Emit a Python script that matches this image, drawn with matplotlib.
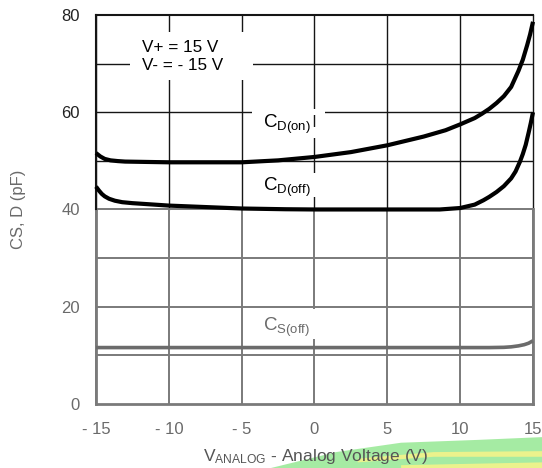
import matplotlib
matplotlib.use("Agg")
import matplotlib.pyplot as plt
from matplotlib.patches import Rectangle, Polygon

plt.rcParams["font.family"] = ["Liberation Sans", "DejaVu Sans"]
plt.rcParams["mathtext.fontset"] = "custom"
plt.rcParams["mathtext.rm"] = "Liberation Sans"
plt.rcParams["mathtext.it"] = "Liberation Sans"

# ---------------------------------------------------------------------------
# Capacitance vs analog voltage (V+ = 15 V, V- = -15 V)
# ---------------------------------------------------------------------------
V_ON = [-15, -14.7, -14.4, -14, -13.5, -13, -12, -10, -5, -2.5, 0, 2.5, 5,
        7.5, 9, 10, 11, 11.5, 12, 12.5, 13, 13.5, 14, 14.3, 14.6, 14.8, 15]
C_D_ON = [51.6, 50.9, 50.4, 50.1, 49.95, 49.85, 49.8, 49.7, 49.7, 50.1,
          50.8, 51.8, 53.2, 55.0, 56.3, 57.5, 58.8, 59.7, 60.7, 61.9, 63.3,
          65.2, 68.5, 70.8, 73.8, 76.0, 78.6]

V_OFF = [-15, -14.8, -14.6, -14.4, -14.1, -13.7, -13.2, -12.5, -11, -10,
         -7.5, -5, -2, 0, 5, 8.6, 10, 11, 11.6, 12, 12.5, 13, 13.5, 13.8,
         14.1, 14.3, 14.5, 14.7, 14.85, 15]
C_D_OFF = [44.7, 43.9, 43.2, 42.7, 42.2, 41.8, 41.5, 41.3, 41.0, 40.8,
           40.5, 40.2, 40.05, 40.0, 40.0, 40.0, 40.3, 41.0, 41.9, 42.6,
           43.6, 44.8, 46.4, 47.8, 49.8, 51.4, 53.3, 55.8, 57.8, 60.0]

V_S = [-15, 10, 12, 13, 13.5, 14, 14.4, 14.7, 15]
C_S_OFF = [11.6, 11.6, 11.6, 11.65, 11.75, 11.95, 12.2, 12.5, 13.0]

X_TICKS = [-15, -10, -5, 0, 5, 10, 15]
X_TICK_LABELS = ["- 15", "- 10", "- 5", "0", "5", "10", "15"]
Y_TICKS = [0, 20, 40, 60, 80]

DARK = "#151515"
GREY = "#7a7a7a"
TEXT_GREY = "#6a6a6a"

fig = plt.figure(figsize=(5.42, 4.68), dpi=100)
ax = fig.add_axes([0.1771, 0.1368, 0.8063, 0.8312])
ax.set_xlim(-15, 15)
ax.set_ylim(0, 80)
for s in ax.spines.values():
    s.set_visible(False)

# grid: black in the upper half, grey in the lower half
for x in X_TICKS:
    ax.plot([x, x], [40, 80], color=DARK, lw=1.0, zorder=1, clip_on=False)
    ax.plot([x, x], [0, 40], color=GREY, lw=1.4, zorder=1, clip_on=False)
for y in [50, 60, 70]:
    ax.plot([-15, 15], [y, y], color=DARK, lw=1.0, zorder=1)
for y in [10, 20, 30, 40]:
    ax.plot([-15, 15], [y, y], color=GREY, lw=1.4, zorder=1)
ax.plot([-15, 15], [80, 80], color=DARK, lw=1.5, zorder=1, clip_on=False)
ax.plot([-15, 15], [0, 0], color=GREY, lw=2.0, zorder=1, clip_on=False)
ax.plot([-15, -15], [0, 40], color=GREY, lw=2.0, zorder=1, clip_on=False)
ax.plot([15, 15], [0, 40], color=GREY, lw=2.0, zorder=1, clip_on=False)
ax.plot([-15, -15], [40, 80], color=DARK, lw=1.5, zorder=1, clip_on=False)

# white knock-outs behind the annotations
for (x0, y0, w, h) in [(-12.66, 66.6, 8.44, 9.9),
                       (-4.3, 59.4, 5.0, 1.2),
                       (-0.3, 54.6, 0.6, 2.3),
                       (-0.3, 42.5, 0.6, 5.1),
                       (-0.3, 13.4, 0.6, 6.2)]:
    ax.add_patch(Rectangle((x0, y0), w, h, facecolor="white",
                           edgecolor="none", zorder=2))

ax.plot(V_ON, C_D_ON, color="black", lw=3.0, zorder=4,
        solid_capstyle="butt", solid_joinstyle="round", clip_on=False)
ax.plot(V_OFF, C_D_OFF, color="black", lw=3.0, zorder=4,
        solid_capstyle="butt", solid_joinstyle="round", clip_on=False)
ax.plot(V_S, C_S_OFF, color="#6b6b6b", lw=2.6, zorder=4,
        solid_capstyle="butt", solid_joinstyle="round", clip_on=False)

ax.text(-11.84, 73.4, "V+ = 15 V", ha="left", va="center", fontsize=12.3,
        color="black", zorder=5)
ax.text(-11.84, 69.7, "V- = - 15 V", ha="left", va="center", fontsize=12.3,
        color="black", zorder=5)
ax.text(-3.53, 56.7, r"C$_{\mathrm{D(on)}}$", ha="left", va="baseline",
        fontsize=13.5, color="black", zorder=5)
ax.text(-3.53, 43.9, r"C$_{\mathrm{D(off)}}$", ha="left", va="baseline",
        fontsize=13.5, color="black", zorder=5)
ax.text(-3.53, 15.05, r"C$_{\mathrm{S(off)}}$", ha="left", va="baseline",
        fontsize=13.5, color=TEXT_GREY, zorder=5)

ax.set_xticks(X_TICKS)
ax.set_xticklabels(X_TICK_LABELS, fontsize=12, color=TEXT_GREY)
ax.set_yticks(Y_TICKS)
ax.set_yticklabels([str(v) for v in Y_TICKS], fontsize=12)
for lab, v in zip(ax.get_yticklabels(), Y_TICKS):
    lab.set_color("#222222" if v >= 60 else TEXT_GREY)
ax.tick_params(axis="x", length=0, pad=13)
ax.tick_params(axis="y", length=0, pad=11.5)

fig.text(0.034, 0.552, "CS, D (pF)", rotation=90, ha="center", va="center",
         fontsize=12, color=TEXT_GREY)

# highlighter smear under the x label
fig.patches.append(Polygon([(0.50, 0.0), (0.62, 0.034), (0.74, 0.054),
                            (0.88, 0.06), (1.0, 0.066), (1.0, 0.0)],
                           closed=True, transform=fig.transFigure,
                           facecolor="#96e893", edgecolor="none", alpha=0.85,
                           zorder=0))
fig.patches.append(Polygon([(0.66, 0.02), (0.80, 0.034), (1.0, 0.036),
                            (1.0, 0.024), (0.80, 0.024), (0.66, 0.012)],
                           closed=True, transform=fig.transFigure,
                           facecolor="#f3f38a", edgecolor="none", alpha=0.9,
                           zorder=0))
fig.patches.append(Polygon([(0.74, 0.006), (1.0, 0.012), (1.0, 0.0),
                            (0.74, 0.0)],
                           closed=True, transform=fig.transFigure,
                           facecolor="#f3f38a", edgecolor="none", alpha=0.9,
                           zorder=0))

fig.text(0.583, 0.024, r"V$_{\mathrm{ANALOG}}$ - Analog Voltage (V)",
         ha="center", va="center", fontsize=12.5, color="#555555", zorder=3)

fig.savefig("out.png", dpi=100)
